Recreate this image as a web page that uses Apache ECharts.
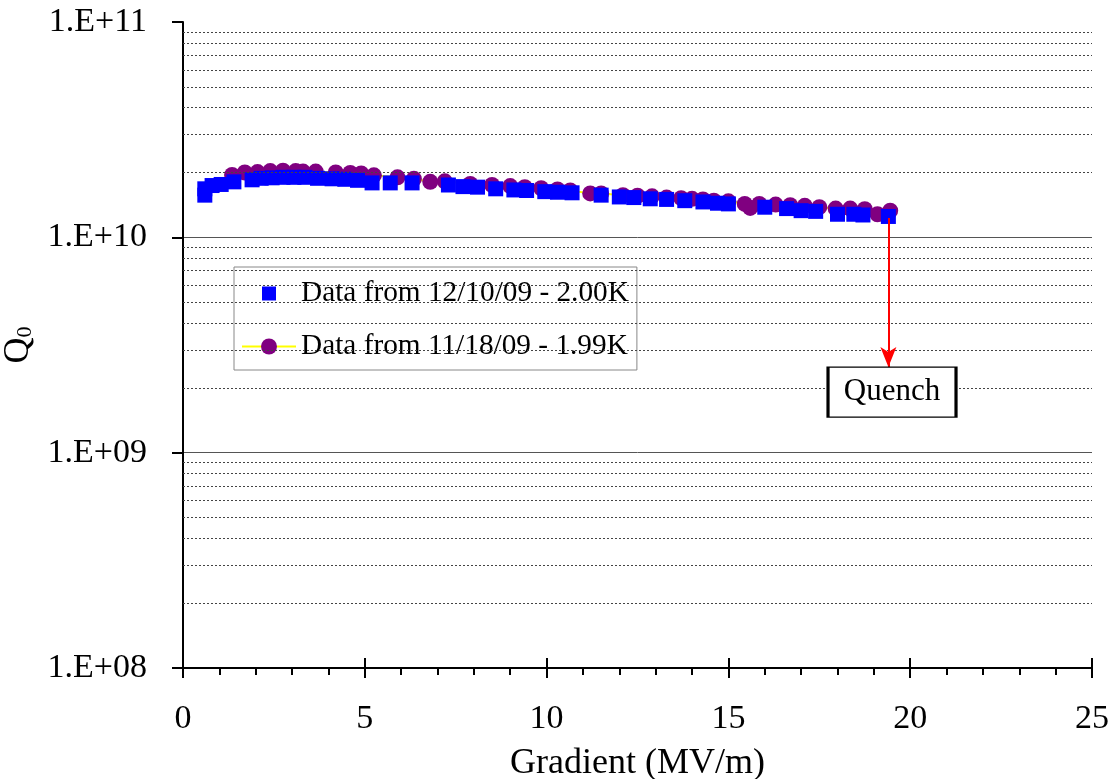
<!DOCTYPE html>
<html>
<head>
<meta charset="utf-8">
<script src="https://cdn.jsdelivr.net/npm/echarts@6/dist/echarts.min.js"></script>
<style>
  html, body { margin: 0; padding: 0; background: #fff; }
  #chart { width: 1112px; height: 779px; }
</style>
</head>
<body>
<div id="chart"></div>
<script>
// Q0 vs Gradient
var nameBlue = "Data from 12/10/09 - 2.00K";
var namePurple = "Data from 11/18/09 - 1.99K";

var blueData = [
    [0.6, 1.57e10], [0.6, 1.68e10], [0.8, 1.74e10], [1.05, 1.76e10], [1.4, 1.81e10],
    [1.9, 1.85e10], [2.15, 1.88e10], [2.45, 1.89e10], [2.75, 1.9e10], [3.05, 1.9e10],
    [3.35, 1.9e10], [3.7, 1.88e10], [4.1, 1.87e10], [4.45, 1.86e10], [4.8, 1.84e10],
    [5.2, 1.79e10], [5.7, 1.79e10], [6.3, 1.79e10], [7.3, 1.75e10], [7.7, 1.72e10],
    [8.1, 1.71e10], [8.6, 1.68e10], [9.1, 1.66e10], [9.45, 1.65e10], [9.95, 1.63e10],
    [10.3, 1.62e10], [10.7, 1.61e10], [11.5, 1.57e10], [12.0, 1.54e10], [12.4, 1.53e10],
    [12.85, 1.51e10], [13.3, 1.5e10], [13.8, 1.48e10], [14.3, 1.46e10], [14.7, 1.44e10],
    [15.0, 1.43e10], [16.0, 1.38e10], [16.6, 1.36e10], [17.0, 1.33e10], [17.4, 1.32e10],
    [18.0, 1.28e10], [18.45, 1.28e10], [18.7, 1.27e10], [19.4, 1.25e10]
];

var purpleData = [
    [1.35, 1.95e10], [1.7, 2.0e10], [2.05, 2.01e10], [2.4, 2.03e10], [2.75, 2.04e10],
    [3.1, 2.03e10], [3.3, 2.02e10], [3.65, 2.02e10], [4.2, 2.0e10], [4.6, 1.99e10],
    [4.9, 1.98e10], [5.25, 1.94e10], [5.9, 1.9e10], [6.35, 1.87e10], [6.8, 1.81e10],
    [7.2, 1.82e10], [7.9, 1.77e10], [8.5, 1.75e10], [9.0, 1.73e10], [9.4, 1.71e10],
    [9.85, 1.69e10], [10.3, 1.67e10], [10.65, 1.65e10], [11.2, 1.6e10], [11.5, 1.6e10],
    [12.1, 1.57e10], [12.5, 1.56e10], [12.9, 1.55e10], [13.3, 1.53e10], [13.7, 1.52e10],
    [14.0, 1.51e10], [14.3, 1.5e10], [14.6, 1.48e10], [15.0, 1.47e10], [15.45, 1.43e10],
    [15.6, 1.37e10], [15.85, 1.43e10], [16.3, 1.42e10], [16.7, 1.41e10], [17.1, 1.4e10],
    [17.5, 1.38e10], [17.95, 1.36e10], [18.35, 1.36e10], [18.75, 1.35e10], [19.1, 1.28e10],
    [19.45, 1.33e10]
];

// quench arrow + label
var quenchX = 19.4;
var quenchFrom = 1.23e10;
var quenchTo = 2.5e9;
var quenchLabelPos = [19.5, 1.91e9];

var serif = "Liberation Serif";

// dotted minor gridlines at 2..9 x each decade
var minorLines = [];
for (var d = 8; d < 11; d++) {
    for (var m = 2; m <= 9; m++) {
        minorLines.push({ yAxis: m * Math.pow(10, d) });
    }
}

var chart = echarts.init(document.getElementById("chart"));

var option = {
    animation: false,
    backgroundColor: "#fff",
    grid: { left: 183, right: 20, top: 22, bottom: 111, containLabel: false, outerBoundsMode: "none" },
    legend: {
        orient: "vertical",
        left: 234,
        top: 267,
        padding: [12, 8, 9, 7],
        itemGap: 24,
        itemWidth: 54,
        itemHeight: 20,
        backgroundColor: "#fff",
        borderColor: "#888",
        borderWidth: 1,
        borderRadius: 0,
        textStyle: { fontFamily: serif, fontSize: 29.3, color: "#000" },
        data: [
            { name: nameBlue, icon: "path://M0,0 L0,0 M54,20 L54,20 M20,3 L34,3 L34,17 L20,17 Z" },
            { name: namePurple }
        ]
    },
    xAxis: [{
        type: "value",
        min: 0,
        max: 25,
        interval: 5,
        name: "Gradient (MV/m)",
        nameLocation: "middle",
        nameGap: 78,
        nameTextStyle: { fontFamily: serif, fontSize: 36, color: "#000" },
        axisLine: { show: true, onZero: false, lineStyle: { color: "#000", width: 2 } },
        axisTick: { show: true, inside: false, length: 10, lineStyle: { color: "#000", width: 2 } },
        minorTick: { show: true, splitNumber: 5, length: 7, lineStyle: { color: "#000", width: 2 } },
        axisLabel: { fontFamily: serif, fontSize: 34, color: "#000", margin: 34 },
        splitLine: { show: false }
    }, {
        // inner half of the major ticks
        type: "value",
        min: 0,
        max: 25,
        interval: 5,
        position: "bottom",
        axisLine: { show: false, onZero: false },
        axisTick: { show: true, inside: true, length: 10, lineStyle: { color: "#000", width: 2 } },
        axisLabel: { show: false },
        splitLine: { show: false }
    }],
    yAxis: {
        type: "log",
        logBase: 10,
        min: 1e8,
        max: 1e11,
        name: "{q|Q}{s|0}",
        nameLocation: "middle",
        nameGap: 123,
        nameRotate: 90,
        nameTextStyle: {
            color: "#000",
            rich: {
                q: { fontFamily: serif, fontSize: 36, color: "#000" },
                s: { fontFamily: serif, fontSize: 22, color: "#000", verticalAlign: "bottom", padding: [14, 0, 0, 0] }
            }
        },
        axisLine: { show: true, lineStyle: { color: "#000", width: 2 } },
        axisTick: { show: true, inside: false, length: 11, lineStyle: { color: "#000", width: 2 } },
        axisLabel: {
            fontFamily: serif, fontSize: 34, color: "#000", margin: 36,
            formatter: function(v) {
                var e = Math.round(Math.log10(v));
                return "1.E+" + (e < 10 ? "0" : "") + e;
            }
        },
        splitLine: { show: true, lineStyle: { color: ["#555", "#555", "#555", "rgba(0,0,0,0)"], width: 1 } }
    },
    series: [{
        name: "grid",
        type: "line",
        data: [],
        silent: true,
        z: 0,
        markLine: {
            silent: true,
            symbol: ["none", "none"],
            label: { show: false },
            lineStyle: { color: "#444", width: 1, type: [2, 2] },
            emphasis: { disabled: true },
            data: minorLines
        }
    }, {
        name: namePurple,
        type: "line",
        data: purpleData,
        symbol: "circle",
        symbolSize: 16,
        z: 2,
        itemStyle: { color: "#800080", opacity: 1 },
        lineStyle: { color: "#ffff00", width: 2 }
    }, {
        name: nameBlue,
        type: "scatter",
        data: blueData,
        symbol: "rect",
        symbolSize: 15,
        z: 3,
        itemStyle: { color: "#0000ff", opacity: 1 },
        markLine: {
            silent: true,
            symbol: ["none", "arrow"],
            symbolSize: [12, 20],
            label: { show: false },
            lineStyle: { color: "#ff0000", width: 2, type: "solid" },
            data: [[{ coord: [quenchX, quenchFrom] }, { coord: [quenchX, quenchTo] }]]
        },
        markPoint: {
            silent: true,
            data: [{
                coord: quenchLabelPos,
                symbol: "rect",
                symbolSize: [128, 50],
                itemStyle: { color: "#fff", borderColor: "#000", borderWidth: 2, opacity: 1 },
                label: { show: true, position: "inside", formatter: "Quench", color: "#000", fontFamily: serif, fontSize: 31 }
            }]
        }
    }]
};

chart.setOption(option);
</script>
</body>
</html>
